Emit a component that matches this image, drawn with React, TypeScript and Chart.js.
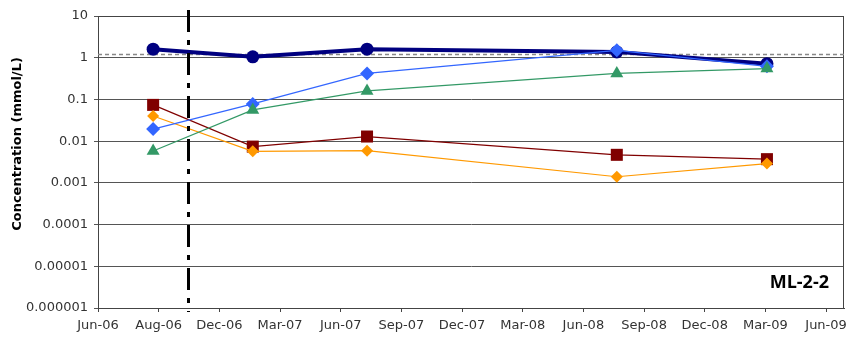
import React, { useEffect, useRef } from 'react';
import { Chart, registerables } from 'chart.js';

Chart.register(...registerables);

const xTickLabels = ['Jun-06', 'Aug-06', 'Dec-06', 'Mar-07', 'Jun-07', 'Sep-07', 'Dec-07', 'Mar-08', 'Jun-08', 'Sep-08', 'Dec-08', 'Mar-09', 'Jun-09'];
const axisStartDate = '2006-06-01';
const axisEndDate = '2009-06-28';
const tickLastDate = '2009-06-01';
const sampleDates = ['2006-08-23', '2007-01-20', '2007-07-11', '2008-07-21', '2009-03-04'];
const navyValues = [1.6, 1.05, 1.6, 1.38, 0.72];
const blueValues = [0.0195, 0.078, 0.42, 1.5, 0.62];
const greenValues = [0.0058, 0.056, 0.16, 0.42, 0.55];
const redValues = [0.074, 0.0074, 0.0129, 0.0047, 0.0037];
const orangeValues = [0.04, 0.0057, 0.0059, 0.0014, 0.0029];
const referenceLevel = 1.2;
const cutoffDate = '2006-10-14';
const yTickValues = [10, 1, 0.1, 0.01, 0.001, 0.0001, 0.00001, 0.000001];
const yTickLabels = ['10', '1', '0.1', '0.01', '0.001', '0.0001', '0.00001', '0.000001'];
const yTitle = 'Concentration (mmol/L)';
const wellLabel = 'ML-2-2';

const DAY = 86400000;
const toDay = (s: string) => (Date.parse(s + 'T00:00:00Z') - Date.parse(axisStartDate + 'T00:00:00Z')) / DAY;

const pts = (vals: number[]) => vals.map((v, i) => ({ x: toDay(sampleDates[i]), y: v }));

const App = () => {
  const ref = useRef<HTMLCanvasElement | null>(null);
  useEffect(() => {
    document.body.style.margin = '0';
    const canvas = ref.current!;
    const xMax = toDay(axisEndDate);
    const tickSpan = toDay(tickLastDate) / (xTickLabels.length - 1);

    const overlay = {
      id: 'overlay',
      beforeDatasetsDraw(chart: any) {
        const { ctx, chartArea } = chart;
        ctx.save();
        ctx.strokeStyle = '#444';
        ctx.lineWidth = 1;
        ctx.strokeRect(chartArea.left + 0.5, chartArea.top + 0.5, chartArea.right - chartArea.left - 1, chartArea.bottom - chartArea.top);
        ctx.restore();
      },
      afterDatasetsDraw(chart: any) {
        const { ctx, chartArea, scales } = chart;
        const x = Math.round(scales.x.getPixelForValue(toDay(cutoffDate))) + 0.5;
        ctx.save();
        ctx.strokeStyle = '#000';
        ctx.lineWidth = 3;
        ctx.setLineDash([22, 8, 5, 8]);
        ctx.beginPath();
        ctx.moveTo(x, chartArea.top - 6);
        ctx.lineTo(x, chartArea.bottom + 4);
        ctx.stroke();
        ctx.restore();
      },
      afterDraw(chart: any) {
        const { ctx, chartArea } = chart;
        ctx.save();
        ctx.fillStyle = '#000';
        ctx.font = 'bold 18px "Open Sans"';
        ctx.textAlign = 'right';
        ctx.textBaseline = 'alphabetic';
        ctx.fillText(wellLabel, chartArea.right - 15, chartArea.bottom - 20);
        ctx.translate(18, 144);
        ctx.rotate(-Math.PI / 2);
        ctx.font = 'bold 13px "DejaVu Sans"';
        ctx.textAlign = 'center';
        ctx.textBaseline = 'middle';
        ctx.fillText(yTitle, 0, 0);
        ctx.restore();
      },
    };

    const chart = new Chart(canvas, {
      type: 'line',
      data: {
        datasets: [
          {
            data: [{ x: 0, y: referenceLevel }, { x: xMax, y: referenceLevel }],
            borderColor: '#888',
            borderWidth: 1.5,
            borderDash: [4, 3],
            pointRadius: 0,
            order: 6,
          },
          {
            data: pts(navyValues),
            borderColor: '#000080',
            backgroundColor: '#000080',
            borderWidth: 4,
            pointStyle: 'circle',
            pointRadius: 6.5,
            pointBorderWidth: 0,
            order: 5,
          },
          {
            data: pts(redValues),
            borderColor: '#800000',
            backgroundColor: '#800000',
            borderWidth: 1.2,
            pointStyle: 'rect',
            pointRadius: 8.5,
            pointBorderWidth: 0,
            order: 4,
          },
          {
            data: pts(orangeValues),
            borderColor: '#FF9900',
            backgroundColor: '#FF9900',
            borderWidth: 1.2,
            pointStyle: 'rectRot',
            pointRadius: 6,
            pointBorderWidth: 0,
            order: 3,
          },
          {
            data: pts(blueValues),
            borderColor: '#3366FF',
            backgroundColor: '#3366FF',
            borderWidth: 1.2,
            pointStyle: 'rectRot',
            pointRadius: 7,
            pointBorderWidth: 0,
            order: 2,
          },
          {
            data: pts(greenValues),
            borderColor: '#339966',
            backgroundColor: '#339966',
            borderWidth: 1.2,
            pointStyle: 'triangle',
            pointRadius: 7.5,
            pointBorderWidth: 0,
            order: 1,
          },
        ],
      },
      options: {
        responsive: false,
        animation: false,
        events: [],
        layout: { padding: { top: 16, right: 14, left: 0, bottom: 0 } },
        plugins: { legend: { display: false }, tooltip: { enabled: false } },
        scales: {
          x: {
            type: 'linear',
            min: 0,
            max: xMax,
            afterBuildTicks: (s: any) => {
              s.ticks = xTickLabels.map((_, i) => ({ value: i * tickSpan }));
            },
            afterFit: (s: any) => {
              s.height = 32;
            },
            ticks: {
              autoSkip: false,
              maxRotation: 0,
              padding: 6,
              color: '#333',
              font: { family: 'DejaVu Sans', size: 13 },
              callback: (_v: any, i: number) => xTickLabels[i],
            },
            grid: { drawOnChartArea: false, drawTicks: true, tickLength: 4, color: '#444' },
            border: { color: '#444' },
          },
          y: {
            type: 'logarithmic',
            min: 0.000001,
            max: 10,
            afterBuildTicks: (s: any) => {
              s.ticks = yTickValues.map((v) => ({ value: v }));
            },
            afterFit: (s: any) => {
              s.width = 98;
            },
            ticks: {
              autoSkip: false,
              padding: 6,
              color: '#333',
              font: { family: 'DejaVu Sans', size: 13 },
              callback: (_v: any, i: number) => yTickLabels[i],
            },
            grid: { drawOnChartArea: true, drawTicks: true, tickLength: 4, color: '#555' },
            border: { color: '#444' },
          },
        },
      },
      plugins: [overlay],
    } as any);
    return () => chart.destroy();
  }, []);
  return (
    <div style={{ width: 858, height: 340, background: '#fff' }}>
      <canvas ref={ref} width={858} height={340} />
    </div>
  );
};

export default App;
